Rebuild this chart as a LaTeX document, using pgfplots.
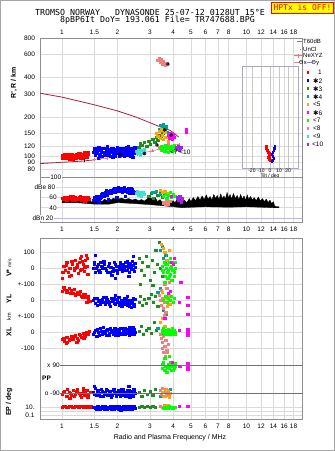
\documentclass[border=0pt]{standalone}
\usepackage{fontspec}
\setmainfont{Liberation Sans}
\newfontfamily\mono{DejaVu Sans Mono}
\newfontfamily\dejavu{DejaVu Sans}
\usepackage{pgfplots}
\pgfplotsset{compat=1.18}
\usetikzlibrary{plotmarks}
\definecolor{c1}{HTML}{FF0000}
\definecolor{c2}{HTML}{0000FF}
\definecolor{c3}{HTML}{228B22}
\definecolor{c4}{HTML}{00A0A0}
\definecolor{c5}{HTML}{FFA500}
\definecolor{c6}{HTML}{FF00FF}
\definecolor{c7}{HTML}{00FF00}
\definecolor{c8}{HTML}{F08080}
\definecolor{c9}{HTML}{40E0D0}
\definecolor{c10}{HTML}{A020F0}
\definecolor{gridc}{HTML}{DADADA}
\definecolor{framec}{HTML}{909090}
\definecolor{darkl}{HTML}{707070}
\definecolor{curvec}{HTML}{A8203A}
\definecolor{nepink}{HTML}{E8708C}
\definecolor{lav}{HTML}{B8B8E8}
\definecolor{hpy}{HTML}{FFFF00}
\newcommand\tlf{\fontsize{6.5}{7}\selectfont}
\newcommand\smf{\fontsize{6}{7}\selectfont}
\pgfplotsset{sq/.style={only marks, mark=square*, mark size=1.15pt, color=#1}}
\begin{document}
\begin{tikzpicture}
\path[use as bounding box] (0pt,0pt) rectangle (335pt,451pt);
\fill[white] (0pt,0pt) rectangle (335pt,451pt);
% ---------------- range panel
\begin{axis}[scale only axis, width=262pt, height=139pt, at={(40pt,274pt)}, anchor=south west,
  xmode=log, xmin=0.76, xmax=20,
  axis line style={draw=framec, line width=0.6pt}, grid=major,
  major grid style={gridc, line width=0.6pt}, major tick length=0pt,
  xtick={1,1.5,2,3,4,5,6,7,8,10,12,14,16,18},
  xticklabels={1,1.5,2,3,4,5,6,7,8,10,12,14,16,18},
  ticklabel style={font=\tlf},
  ymode=log, ymin=69.5, ymax=800,
  ytick={80,90,100,120,150,200,300,400,600,800},
  yticklabels={80,90,100,120,150,200,300,400,600,800},
  xticklabel pos=upper, yticklabel style={xshift=-1.5pt}]
\addplot[curvec, line width=0.8pt] coordinates {(0.76,303)(1.0,283)(1.5,247)(2.0,222)(2.5,200)(2.9,184)(3.4,168)(3.85,158)(4.1,148)(4.3,140)};
\addplot[curvec, line width=0.8pt] coordinates {(0.76,88)(1.0,90)(1.3,92)(1.5,94)};
\addplot[nepink, line width=0.6pt, mark=+, mark size=1.5pt] coordinates {(1.5,95)(1.62,96)(1.75,97)(1.9,98)(2.1,100)(2.3,102)(2.55,104)(2.8,107)(3.1,110)(3.4,114)(3.7,118)(4.0,121)(4.3,124)};
\addplot[sq=c1] coordinates {(1.00,102)(1.02,98)(1.04,100)(1.06,97)(1.08,101)(1.10,96)(1.12,99)(1.14,103)(1.16,98)(1.18,100)(1.20,104)(1.22,99)(1.24,102)(1.26,106)(1.28,100)(1.30,103)(1.32,98)(1.34,105)(1.36,101)(1.38,104)(1.05,104)(1.15,95)(1.25,97)(1.35,107)
(1.01,97)(1.03,103)(1.07,99)(1.09,104)(1.11,101)(1.13,96)(1.17,102)(1.19,97)(1.21,101)(1.23,106)(1.27,103)(1.29,97)(1.31,101)(1.33,107)(1.37,98)(1.39,108)};
\addplot[sq=c2] coordinates {(1.48,108)(1.50,115)(1.52,102)(1.55,110)(1.58,118)(1.60,104)(1.62,112)(1.65,100)(1.68,108)(1.70,115)(1.72,103)(1.75,110)(1.78,105)(1.80,112)(1.83,100)(1.86,107)(1.90,114)(1.93,104)(1.96,110)(2.00,118)(2.03,106)(2.06,112)(2.10,102)(2.13,109)(2.16,116)(2.20,105)(2.24,112)(2.28,120)(2.32,107)(2.36,114)(2.40,104)(2.44,111)(2.48,117)(1.57,97)(1.88,98)(2.18,100)(2.42,99)
(1.49,112)(1.53,106)(1.56,114)(1.59,101)(1.63,109)(1.66,116)(1.69,104)(1.73,112)(1.76,119)(1.79,102)(1.82,109)(1.85,116)(1.89,103)(1.92,110)(1.95,101)(1.98,113)(2.02,109)(2.05,100)(2.08,115)(2.12,107)(2.15,104)(2.19,112)(2.22,118)(2.26,103)(2.30,110)(2.34,101)(2.38,108)(2.42,115)(2.46,106)(2.50,112)};
\addplot[sq=c9] coordinates {(2.52,110)(2.55,105)(2.58,113)(2.62,108)(2.65,103)(2.70,111)(2.75,106)(2.78,112)};
\addplot[sq=c3] coordinates {(2.60,118)(2.65,125)(2.72,122)(2.80,128)(2.88,120)(2.95,130)(3.02,124)(3.10,135)(3.18,128)(3.25,140)(3.30,132)(3.38,145)(3.45,138)(3.52,150)};
\addplot[sq=c4] coordinates {(3.35,160)(3.40,172)(3.45,155)(3.50,165)(3.55,175)(3.60,158)(3.65,168)(3.70,152)};
\addplot[sq=c5] coordinates {(3.25,150)(3.30,142)(3.35,155)(3.40,138)(3.45,160)(3.50,145)(3.55,135)(3.60,152)(3.65,140)(3.75,130)};
\addplot[sq=c6] coordinates {(3.75,145)(3.80,138)(3.85,150)(3.90,142)(3.95,135)(4.00,148)(4.05,140)(4.70,160)(4.70,152)(4.70,156)};
\addplot[sq=c8] coordinates {(3.30,540)(3.35,560)(3.40,520)(3.45,550)(3.50,510)(3.55,530)(3.62,500)(3.70,515)(3.35,118)(3.45,112)(3.55,120)(3.65,115)(3.75,125)(3.85,113)};
\addplot[sq=c7] coordinates {(3.40,115)(3.45,120)(3.50,112)(3.55,118)(3.60,110)(3.65,122)(3.70,115)(3.75,108)(3.80,118)(3.85,112)(3.90,120)(3.95,110)(4.00,116)(4.05,122)(4.10,112)(4.15,118)};
\addplot[sq=c10] coordinates {(4.15,118)(4.20,114)(4.25,120)(4.30,112)(4.35,116)(4.40,118)};
\addplot[only marks, black, mark=otimes, mark size=1.6pt] coordinates {(2.06,103)(2.8,105)(3.27,122)(3.6,159)(3.9,145)(3.75,505)};
\addplot[black, line width=0.7pt] coordinates {(1.33,90)(1.33,104)};
\end{axis}
\node[anchor=west, font=\tlf, inner sep=0pt] at (170pt,299pt) {<7 <10};
% ---------------- tilt inset
\begin{axis}[scale only axis, at={(242pt,283pt)}, anchor=south west, width=56pt, height=102pt,
  xmin=-31, xmax=31, ymin=-168, ymax=-66, axis line style={draw=lav!70!gray, line width=0.6pt},
  xtick={-20,-10,0,10,20}, xticklabels={-20,-10,0,10,20}, ytick=\empty,
  xmajorgrids, major grid style={gridc!80!gray, line width=0.5pt}, major tick length=0pt,
  xticklabel style={font=\fontsize{5}{6}\selectfont, inner sep=0.5pt}]
\addplot[only marks, mark=square*, mark size=0.8pt, c1] coordinates {(-4.5,-146)(-4,-148)(-3.5,-149)(-3,-150)(-2,-152)(-1,-153)(0,-154)(-1,-156)(-2,-157)(-1.5,-158)(-1,-159)(0,-160)};
\addplot[only marks, mark=square*, mark size=0.8pt, c2] coordinates {(5,-146)(4.5,-148)(4,-150)(3,-152)(2,-154)(3,-156)(4,-158)(3,-160)(2,-161)};
\end{axis}
\node[font=\fontsize{5}{6}\selectfont, inner sep=0pt] at (270pt,275pt) {Tilt / deg};
% ---------------- dBe panel
\begin{axis}[scale only axis, width=262pt, height=45pt, at={(40pt,229pt)}, anchor=south west,
  xmode=log, xmin=0.76, xmax=20,
  axis line style={draw=framec, line width=0.6pt}, grid=major,
  major grid style={gridc, line width=0.6pt}, major tick length=0pt,
  xtick={1,1.5,2,3,4,5,6,7,8,10,12,14,16,18},
  xticklabels={1,1.5,2,3,4,5,6,7,8,10,12,14,16,18},
  ticklabel style={font=\tlf},
  ymin=12.2, ymax=100, ytick={40,60,80,100}, yticklabels={}, xticklabel style={yshift=-1.5pt}]
\addplot[lav, line width=0.8pt] coordinates {(0.76,20)(20,20)};
\addplot[fill=black, draw=black, line width=0.3pt] coordinates {(1.00,55)(1.05,52)(1.10,56)(1.15,53)(1.20,57)(1.25,54)(1.30,56)(1.35,52)(1.40,55)(1.45,51)(1.50,56)(1.55,53)(1.60,55)(1.65,52)(1.70,57)(1.75,54)(1.80,58)(1.85,55)(1.90,59)(1.95,56)(2.00,60)(2.05,57)(2.10,59)(2.20,56)(2.30,58)(2.40,55)(2.50,57)(2.60,54)(2.70,56)(2.80,53)(2.90,58)(3.00,62)(3.10,55)(3.20,60)(3.30,52)(3.40,56)(3.50,50)(3.60,53)(3.70,48)(3.80,52)(3.90,49)(4.00,54)(4.10,50)(4.20,56)(4.30,51)(4.40,58)(4.50,52)(4.60,55)(4.75,50)(4.90,58)(5.00,52)(5.15,60)(5.30,54)(5.45,62)(5.60,55)(5.75,63)(5.90,56)(6.05,65)(6.20,57)(6.35,62)(6.50,55)(6.65,66)(6.80,58)(6.95,64)(7.10,56)(7.25,67)(7.40,58)(7.55,63)(7.70,57)(7.85,70)(8.00,59)(8.15,66)(8.30,57)(8.50,68)(8.70,58)(8.90,64)(9.10,56)(9.30,66)(9.50,57)(9.70,63)(9.90,55)(10.1,65)(10.3,56)(10.5,62)(10.8,55)(11.0,60)(11.3,54)(11.6,61)(11.9,53)(12.2,58)(12.5,52)(12.8,57)(13.1,50)(13.4,55)(13.7,48)(14.0,52)(14.2,44)(14.5,42)(15.0,42)(15.0,40)(14.0,40)(12.0,41)(10.0,42)(8.0,41)(6.0,42)(5.0,41)(4.5,40)(4.0,42)(3.5,44)(3.0,46)(2.5,48)(2.0,50)(1.8,47)(1.5,47)(1.2,50)(1.0,50)};
\addplot[sq=c1] coordinates {(1.00,58)(1.03,61)(1.06,56)(1.09,60)(1.12,57)(1.15,62)(1.18,55)(1.21,59)(1.24,61)(1.27,56)(1.30,60)(1.33,54)(1.36,58)(1.40,57)
(1.02,57)(1.05,60)(1.08,58)(1.11,62)(1.14,55)(1.17,60)(1.20,58)(1.23,57)(1.26,62)(1.29,58)(1.32,61)(1.35,56)(1.38,60)};
\addplot[sq=c2] coordinates {(1.47,55)(1.50,60)(1.53,57)(1.56,63)(1.60,58)(1.64,66)(1.68,62)(1.72,70)(1.76,65)(1.80,72)(1.85,68)(1.90,75)(1.95,70)(2.00,77)(2.05,72)(2.10,78)(2.15,73)(2.20,76)(2.25,70)(2.30,78)(2.35,72)(2.40,75)(2.45,68)(1.58,52)(1.78,56)(1.98,60)(2.20,62)
(1.49,58)(1.54,62)(1.62,61)(1.66,68)(1.70,64)(1.74,73)(1.78,69)(1.83,74)(1.88,70)(1.92,78)(1.97,73)(2.02,80)(2.08,75)(2.12,70)(2.18,79)(2.23,73)(2.28,76)(2.33,69)(2.38,77)(2.43,72)(2.48,70)};
\addplot[sq=c9] coordinates {(2.52,68)(2.56,72)(2.60,65)(2.64,70)(2.68,63)(2.72,68)(2.76,71)(2.80,66)};
\addplot[sq=c3] coordinates {(2.95,62)(3.05,68)(3.12,58)(3.2,70)(3.3,64)(3.4,72)(3.5,60)(3.6,66)};
\addplot[sq=c4] coordinates {(3.1,70)(3.25,72)(3.4,66)};
\addplot[sq=c5] coordinates {(3.4,74)(3.5,70)(3.6,72)(3.7,68)};
\addplot[sq=c7] coordinates {(3.55,62)(3.62,67)(3.70,58)(3.78,65)(3.85,70)(3.92,60)(4.00,66)(4.08,62)};
\addplot[sq=c8] coordinates {(3.55,50)(3.62,47)(3.70,52)(3.78,48)(3.85,53)};
\addplot[sq=c6] coordinates {(3.9,63)(4.2,58)(4.3,60)};
\addplot[sq=c10] coordinates {(4.20,60)(4.28,55)(4.35,62)(4.42,52)(4.48,58)};
\end{axis}
\node[anchor=east, font=\tlf, fill=white, inner sep=0.6pt] at (62pt,274pt) {100};
\node[anchor=east, font=\tlf, fill=white, inner sep=0.6pt] at (56pt,263.7pt) {dBe 80};
\node[anchor=east, font=\tlf, fill=white, inner sep=0.6pt] at (57.5pt,253.3pt) {60};
\node[anchor=east, font=\tlf, fill=white, inner sep=0.6pt] at (57.5pt,243pt) {40};
\node[anchor=east, font=\tlf, fill=white, inner sep=0.6pt] at (54pt,233pt) {dBn 20};
% ---------------- lower panel
\begin{axis}[scale only axis, width=262pt, height=181pt, at={(40pt,32pt)}, anchor=south west,
  xmode=log, xmin=0.76, xmax=20,
  axis line style={draw=framec, line width=0.6pt}, grid=major,
  major grid style={gridc, line width=0.6pt}, major tick length=0pt,
  xtick={1,1.5,2,3,4,5,6,7,8,10,12,14,16,18},
  xticklabels={1,1.5,2,3,4,5,6,7,8,10,12,14,16,18},
  ticklabel style={font=\tlf},
  ymin=-419, ymax=-238,
  ytick={-252,-268,-284,-300,-316,-332,-348,-407,-411,-415},
  yticklabels={100,0,+-100,0,+-100,0,-100,10.,,0.1},
  yticklabel style={xshift=-2pt}, xticklabel style={yshift=-1.5pt}]
\addplot[sq=c1] coordinates {(1.00,-278)(1.02,-266)(1.04,-270)(1.06,-262)(1.08,-272)(1.10,-268)(1.12,-275)(1.14,-264)(1.16,-270)(1.18,-260)(1.20,-267)(1.22,-273)(1.24,-262)(1.26,-258)(1.28,-269)(1.30,-264)(1.32,-271)(1.34,-260)(1.36,-266)(1.38,-274)(1.27,-256)(1.35,-255)
(1.01,-272)(1.05,-265)(1.09,-276)(1.13,-261)(1.17,-268)(1.21,-264)(1.25,-270)(1.29,-261)(1.33,-267)(1.37,-258)
(1.00,-291)(1.03,-289)(1.06,-292)(1.09,-288)(1.12,-290)(1.15,-293)(1.18,-295)(1.21,-292)(1.24,-294)(1.27,-296)(1.30,-294)(1.33,-297)(1.36,-302)(1.39,-299)(1.42,-301)
(1.02,-287)(1.07,-290)(1.11,-293)(1.16,-289)(1.20,-294)(1.25,-291)(1.29,-297)(1.34,-294)(1.38,-296)
(1.00,-339)(1.03,-341)(1.06,-337)(1.09,-340)(1.12,-336)(1.15,-339)(1.18,-335)(1.21,-338)(1.24,-334)(1.27,-337)(1.30,-333)(1.33,-336)(1.36,-332)(1.39,-334)(1.05,-343)(1.20,-342)
(1.02,-338)(1.07,-342)(1.11,-339)(1.16,-336)(1.22,-340)(1.26,-335)(1.31,-338)(1.35,-334)(1.40,-331)
(1.00,-394)(1.03,-391)(1.06,-396)(1.09,-392)(1.12,-395)(1.15,-390)(1.18,-394)(1.21,-389)(1.24,-393)(1.27,-397)(1.30,-391)(1.33,-395)(1.36,-390)(1.39,-394)(1.42,-392)(1.10,-398)(1.30,-388)
(1.02,-392)(1.07,-389)(1.11,-393)(1.16,-396)(1.20,-391)(1.25,-395)(1.29,-393)(1.34,-392)(1.38,-397)
(1.00,-407)(1.04,-406)(1.08,-407.5)(1.12,-406)(1.16,-407)(1.20,-406.5)(1.24,-407.5)(1.28,-406)(1.32,-407)(1.36,-406)(1.40,-407.5)(1.44,-406.5)
(1.02,-406.5)(1.06,-407)(1.10,-406.5)(1.14,-407.5)(1.18,-406)(1.22,-407)(1.26,-406.5)(1.30,-407.5)(1.34,-406.5)(1.38,-407)(1.42,-406)(1.46,-407)};
\addplot[sq=c2] coordinates {(1.48,-268)(1.50,-264)(1.52,-272)(1.55,-266)(1.58,-270)(1.62,-262)(1.66,-268)(1.70,-264)(1.74,-270)(1.78,-266)(1.82,-272)(1.86,-275)(1.90,-268)(1.94,-264)(1.98,-270)(2.02,-266)(2.06,-262)(2.10,-268)(2.14,-264)(2.18,-270)(2.22,-266)(2.26,-261)(2.30,-267)(2.34,-263)(2.38,-269)(2.42,-265)(2.46,-271)(2.50,-267)(1.52,-255)(1.95,-278)(2.44,-256)(2.30,-276)
(1.49,-262)(1.53,-268)(1.57,-264)(1.60,-272)(1.64,-266)(1.68,-261)(1.72,-268)(1.76,-272)(1.80,-263)(1.84,-267)(1.88,-271)(1.92,-262)(1.96,-266)(2.00,-273)(2.04,-269)(2.08,-265)(2.12,-271)(2.16,-267)(2.20,-262)(2.24,-270)(2.28,-264)(2.32,-272)(2.36,-266)(2.40,-261)(2.44,-269)(2.48,-263)
(1.48,-300)(1.51,-303)(1.54,-298)(1.57,-301)(1.61,-304)(1.65,-299)(1.69,-302)(1.73,-297)(1.77,-301)(1.81,-304)(1.85,-298)(1.89,-300)(1.93,-303)(1.97,-299)(2.01,-302)(2.05,-305)(2.09,-300)(2.13,-303)(2.17,-298)(2.21,-302)(2.25,-305)(2.29,-300)(2.33,-303)(2.37,-307)(2.41,-301)(2.45,-304)(2.49,-299)(1.95,-295)(2.25,-296)
(1.50,-298)(1.55,-305)(1.59,-300)(1.63,-302)(1.67,-297)(1.71,-304)(1.75,-299)(1.79,-302)(1.83,-306)(1.87,-301)(1.91,-298)(1.95,-304)(1.99,-300)(2.03,-297)(2.07,-303)(2.11,-306)(2.15,-300)(2.19,-304)(2.23,-299)(2.27,-302)(2.31,-306)(2.35,-300)(2.39,-303)(2.43,-298)(2.47,-306)
(1.48,-334)(1.51,-330)(1.54,-336)(1.57,-332)(1.61,-328)(1.65,-334)(1.69,-331)(1.73,-335)(1.77,-329)(1.81,-333)(1.85,-330)(1.89,-334)(1.93,-328)(1.97,-332)(2.01,-335)(2.05,-330)(2.09,-333)(2.13,-328)(2.17,-331)(2.21,-334)(2.25,-329)(2.29,-332)(2.33,-327)(2.37,-331)(2.41,-334)(2.45,-329)(2.49,-332)
(1.50,-332)(1.55,-329)(1.59,-335)(1.63,-331)(1.67,-327)(1.71,-333)(1.75,-330)(1.79,-335)(1.83,-328)(1.87,-332)(1.91,-331)(1.95,-335)(1.99,-329)(2.03,-332)(2.07,-328)(2.11,-334)(2.15,-331)(2.19,-328)(2.23,-333)(2.27,-330)(2.31,-335)(2.35,-329)(2.39,-332)(2.43,-327)(2.47,-334)
(1.48,-392)(1.51,-388)(1.54,-395)(1.57,-390)(1.61,-396)(1.65,-391)(1.69,-394)(1.73,-389)(1.77,-395)(1.81,-392)(1.85,-397)(1.89,-390)(1.93,-393)(1.97,-396)(2.01,-391)(2.05,-394)(2.09,-389)(2.13,-395)(2.17,-392)(2.21,-396)(2.25,-390)(2.29,-393)(2.33,-397)(2.37,-391)(2.41,-394)(2.45,-389)(2.49,-393)(1.50,-386)(2.30,-386)
(1.50,-394)(1.55,-391)(1.59,-393)(1.63,-389)(1.67,-396)(1.71,-392)(1.75,-390)(1.79,-394)(1.83,-391)(1.87,-395)(1.91,-389)(1.95,-392)(1.99,-394)(2.03,-390)(2.07,-396)(2.11,-392)(2.15,-389)(2.19,-394)(2.23,-392)(2.27,-396)(2.31,-390)(2.35,-394)(2.39,-392)(2.43,-396)(2.47,-390)
(1.48,-407)(1.52,-408.5)(1.56,-406)(1.60,-409)(1.64,-407)(1.68,-408)(1.72,-406.5)(1.76,-409.5)(1.80,-407.5)(1.84,-408.5)(1.88,-406)(1.92,-409)(1.96,-407.5)(2.00,-408)(2.04,-406.5)(2.08,-410)(2.12,-407)(2.16,-408.5)(2.20,-406)(2.24,-409)(2.28,-407.5)(2.32,-408)(2.36,-406.5)(2.40,-409)(2.44,-407)(2.48,-408)
(1.50,-407.5)(1.54,-409)(1.58,-407)(1.62,-408.5)(1.66,-406.5)(1.70,-409)(1.74,-407.5)(1.78,-408)(1.82,-406.5)(1.86,-409.5)(1.90,-407.5)(1.94,-408.5)(1.98,-406.5)(2.02,-409)(2.06,-407.5)(2.10,-408)(2.14,-406.5)(2.18,-409.5)(2.22,-407.5)(2.26,-408)(2.30,-406.5)(2.34,-409)(2.38,-407.5)(2.42,-408.5)(2.46,-406.5)};
\addplot[sq=c3] coordinates {(2.62,-258)(2.68,-270)(2.72,-262)(2.80,-275)(2.86,-256)(2.92,-266)(3.00,-280)(3.08,-260)(3.15,-272)(3.22,-250)(3.28,-264)(3.35,-242)(3.40,-268)(3.50,-276)(2.65,-284)(3.10,-285)
(2.62,-302)(2.66,-296)(2.72,-305)(2.78,-299)(2.85,-303)(2.95,-298)(3.05,-294)(3.12,-302)(3.20,-296)(3.30,-306)
(2.62,-331)(2.68,-326)(2.75,-334)(2.85,-330)(2.95,-328)(3.05,-333)(3.15,-322)(3.25,-330)
(2.62,-392)(2.70,-396)(2.80,-390)(2.90,-394)(3.00,-391)(3.10,-395)(3.20,-389)
(2.62,-407)(2.70,-406)(2.80,-407.5)(2.90,-406.5)(3.00,-407)(3.10,-406)(3.20,-407.5)};
\addplot[sq=c4] coordinates {(3.40,-250)(3.50,-246)(3.55,-258)(3.60,-262)(3.65,-255)(3.30,-292)(3.40,-288)(3.55,-310)(3.65,-314)(3.30,-328)(3.45,-334)(3.40,-396)(3.85,-389)};
\addplot[sq=c8] coordinates {(3.60,-284)(3.70,-288)(3.80,-282)
(3.35,-295)(3.40,-300)(3.45,-305)(3.50,-298)(3.55,-308)(3.60,-302)(3.65,-312)(3.70,-296)(3.75,-304)(3.80,-300)(3.45,-290)(3.58,-315)
(3.40,-334)(3.45,-338)(3.50,-342)(3.55,-336)(3.60,-346)(3.65,-340)(3.70,-350)(3.75,-344)(3.55,-352)(3.62,-356)(3.50,-348)
(3.65,-352)(3.70,-352)
(3.40,-390)(3.45,-394)(3.50,-388)(3.55,-396)(3.60,-392)(3.65,-389)(3.70,-395)(3.75,-391)(3.80,-394)
(3.40,-406)(3.50,-407)(3.60,-405.5)(3.70,-406.5)(3.80,-407)};
\addplot[sq=c5] coordinates {(3.45,-244)(3.55,-248)(3.60,-252)(3.70,-260)(3.75,-272)(3.80,-250)
(3.50,-292)(3.62,-298)(3.72,-306)(3.80,-295)(3.85,-304)
(3.40,-322)(3.50,-318)(3.60,-326)(3.70,-330)
(3.50,-392)(3.60,-396)(3.70,-390)(3.80,-397)(3.85,-393)
(3.60,-406)(3.75,-405)};
\addplot[sq=c7] coordinates {(3.50,-266)(3.55,-272)(3.58,-262)(3.62,-276)(3.66,-268)(3.70,-264)(3.74,-278)(3.78,-270)(3.82,-262)(3.86,-274)(3.90,-266)(3.94,-280)(3.98,-270)(4.02,-264)(4.06,-272)(4.10,-268)(3.60,-282)(3.85,-258)
(3.52,-270)(3.64,-264)(3.72,-272)(3.80,-276)(3.88,-268)(3.96,-262)(4.04,-276)(4.08,-262)
(3.55,-300)(3.65,-296)(3.72,-302)(3.78,-298)(3.85,-300)(3.92,-296)(4.00,-302)(4.05,-298)
(3.50,-332)(3.55,-328)(3.60,-334)(3.65,-330)(3.70,-332)(3.75,-329)(3.80,-334)(3.85,-330)(3.90,-332)(3.95,-328)(4.00,-334)(4.05,-330)(4.10,-332)
(3.52,-330)(3.62,-332)(3.72,-334)(3.82,-331)(3.92,-334)(4.02,-331)(4.08,-334)
(3.50,-368)(3.55,-362)(3.60,-370)(3.65,-366)(3.70,-372)(3.75,-364)(3.80,-368)(3.85,-362)(3.90,-370)(3.95,-366)(4.00,-364)(4.05,-368)(4.10,-366)(3.60,-358)(3.80,-356)
(3.52,-364)(3.62,-366)(3.72,-367)(3.82,-365)(3.92,-363)(4.02,-370)(4.08,-363)
(3.55,-408)(3.65,-407)(3.75,-408.5)(3.85,-407)(3.95,-408)(4.05,-407.5)
(3.60,-407.5)(3.70,-408)(3.80,-406.5)(3.90,-407.5)(4.00,-408)(4.10,-407)};
\addplot[sq=c6] coordinates {(3.90,-262)(4.00,-264)(4.05,-258)(4.40,-282)
(3.75,-293)(3.85,-291)(4.30,-302)(4.80,-297)(4.80,-305)(4.80,-314)
(3.60,-318)(4.30,-330)(4.80,-329)(4.80,-332)(4.80,-335)
(3.95,-362)(4.35,-366)(4.80,-363)(4.80,-366)(4.80,-369)
(4.30,-406.5)(4.80,-406.5)};
\end{axis}
\draw[darkl, line width=0.8pt] (60pt,86pt) -- (302pt,86pt);
\draw[darkl, line width=0.8pt] (60pt,58pt) -- (302pt,58pt);
\node[anchor=east, font=\tlf, inner sep=0pt] at (60pt,86pt) {x\,\,90};
\node[anchor=east, font=\tlf, inner sep=0pt] at (60pt,58pt) {o -90};
\node[anchor=west, font=\tlf\bfseries, inner sep=0pt] at (42pt,73pt) {PP};
% ---------------- left labels
\node[rotate=90, font=\fontsize{7}{8}\selectfont\bfseries, inner sep=0pt] at (14pt,368pt) {R', R / km};
\node[rotate=90, font=\fontsize{7}{8}\selectfont\bfseries, inner sep=0pt] at (9pt,183pt) {V* {\fontsize{5}{6}\selectfont\mdseries m/s}};
\node[rotate=90, font=\fontsize{7}{8}\selectfont\bfseries, inner sep=0pt] at (9pt,152pt) {YL};
\node[rotate=90, font=\fontsize{5.5}{6}\selectfont, inner sep=0pt] at (9pt,134pt) {km};
\node[rotate=90, font=\fontsize{7}{8}\selectfont\bfseries, inner sep=0pt] at (9pt,119pt) {XL};
\node[rotate=90, font=\fontsize{7}{8}\selectfont\bfseries, inner sep=0pt] at (9pt,49pt) {EP / deg};
\node[font=\fontsize{7}{8}\selectfont, inner sep=0pt] at (170pt,13pt) {Radio and Plasma Frequency / MHz};
% ---------------- title
\node[font=\mono\fontsize{8.3}{9}\selectfont, inner sep=0pt] at (150pt,439pt) {TROMSO NORWAY \ \ DYNASONDE 25-07-12 0128UT 15°E};
\node[font=\mono\fontsize{8.3}{9}\selectfont, inner sep=0pt] at (157.5pt,431pt) {8pBP6It DoY= 193.061 File= TR747688.BPG};
\draw[red, fill=hpy, line width=0.6pt] (271.5pt,437.5pt) rectangle (333.5pt,449pt);
\node[font=\mono\fontsize{8}{9}\selectfont, text=red, inner sep=0pt] at (302.5pt,443.2pt) {HPTx is OFF!};
% ---------------- legend
\begin{scope}[font=\smf]
\draw[gray, line width=0.8pt] (297pt,409.3pt) -- (302pt,409.3pt);
\node[anchor=west, inner sep=0pt] at (303pt,409.3pt) {T60dB};
\fill[black] (300.5pt,401.3pt) circle (0.4pt);
\node[anchor=west, inner sep=0pt] at (303pt,401.3pt) {UnCl};
\draw[nepink, line width=0.6pt] (294pt,395.3pt) -- (302pt,395.3pt) (298pt,393.3pt) -- (298pt,397.3pt);
\node[anchor=west, inner sep=0pt] at (303pt,395.3pt) {NeXYZ};
\draw[c8, line width=0.7pt] (294pt,388.3pt) -- (299pt,388.3pt);
\node[anchor=west, inner sep=0pt] at (299pt,388.3pt) {\dejavu\fontsize{5.5}{6}\selectfont Θx};
\draw[c2!50, line width=0.7pt] (307pt,388.3pt) -- (311.5pt,388.3pt);
\node[anchor=west, inner sep=0pt] at (311.5pt,388.3pt) {\dejavu\fontsize{5.5}{6}\selectfont Θy};
\foreach \c/\t/\k/\xx in {c1/1/0/318,c2/{\dejavu ✱}2/1/313,c3/{\dejavu ✱}3/2/313,c4/{\dejavu ✱}4/3/313,c5/<5/4/313,c6/{\dejavu ✱}6/5/313,c7/<7/6/313,c8/<8/7/313,c9/<9/8/313,c10/<10/9/312} {
  \fill[\c] (306.6pt,378.3pt-8pt*\k-1.2pt) rectangle (309pt,378.3pt-8pt*\k+1.2pt);
  \node[anchor=west, inner sep=0pt, font=\fontsize{6.5}{7}\selectfont] at (\xx pt,378.3pt-8pt*\k) {\t};
}
\end{scope}
\draw[gray!70, line width=0.6pt] (0.3pt,0.3pt) rectangle (334.7pt,450.7pt);
\end{tikzpicture}
\end{document}
